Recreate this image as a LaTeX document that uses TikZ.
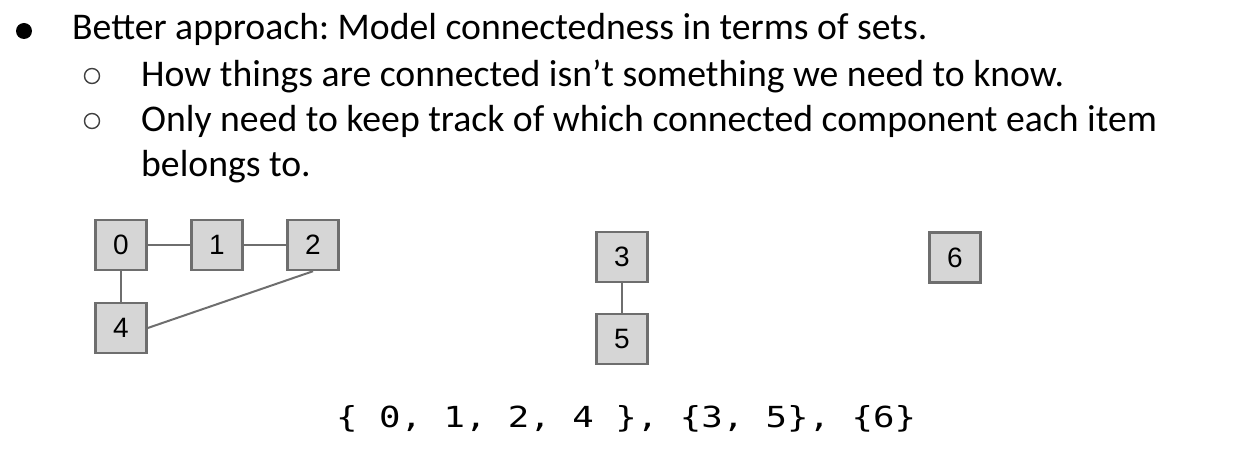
\documentclass[tikz,border=0pt]{standalone}
\usepackage{fontspec}
\setmainfont{Carlito}
\newfontfamily\boxfont{Liberation Sans}
\newfontfamily\codefont[FakeStretch=1.23]{DejaVu Sans Mono}
\begin{document}
\frenchspacing
\begin{tikzpicture}[x=1pt,y=-1pt,
  item/.style={draw=boxline, fill=boxfill, line width=2.5pt, minimum width=51pt, minimum height=50pt, inner sep=0pt, font=\boxfont\fontsize{28}{28}\selectfont},
  link/.style={draw=boxline, line width=2pt},
  bullettext/.style={anchor=base west, inner sep=0pt, font=\fontsize{37.7}{44}\selectfont},
  subdot/.style={draw=black!75, line width=1.4pt}
]
\definecolor{boxline}{HTML}{6E6E6E}
\definecolor{boxfill}{HTML}{D6D6D6}
\useasboundingbox (0,0) rectangle (1234,462);

% bullets
\fill[black] (24,31) circle (8);
\node[subdot, circle, minimum size=15pt, inner sep=0pt] (c1) at (92,76) {};
\node[subdot, circle, minimum size=15pt, inner sep=0pt] (c2) at (92,121) {};

\node[bullettext] (t1) at (72,40) {Better approach: Model connectedness in terms of sets.};
\node[bullettext] (t2) at (141,87) {How things are connected isn’t something we need to know.};
\node[bullettext] (t3) at (141,132) {Only need to keep track of which connected component each item};
\node[bullettext] (t4) at (141,177) {belongs to.};

% graph
\node[item] (n0) at (121,245) {0};
\node[item] (n1) at (217,245) {1};
\node[item] (n2) at (313,245) {2};
\node[item] (n4) at (121,328) {4};
\node[item] (n3) at (622,257) {3};
\node[item] (n5) at (622,339) {5};
\node[item] (n6) at (955,257.5) {6};

\draw[link] (n0.east) -- (n1.west);
\draw[link] (n1.east) -- (n2.west);
\draw[link] (n0.south) -- (n4.north);
\draw[link] (n2.south) -- (n4.east);
\draw[link] (n3.south) -- (n5.north);

\node[anchor=base west, inner sep=0pt, font=\codefont\fontsize{29}{29}\selectfont] (sets) at (336,427) {\{ 0, 1, 2, 4 \}, \{3, 5\}, \{6\}};
\end{tikzpicture}
\end{document}
